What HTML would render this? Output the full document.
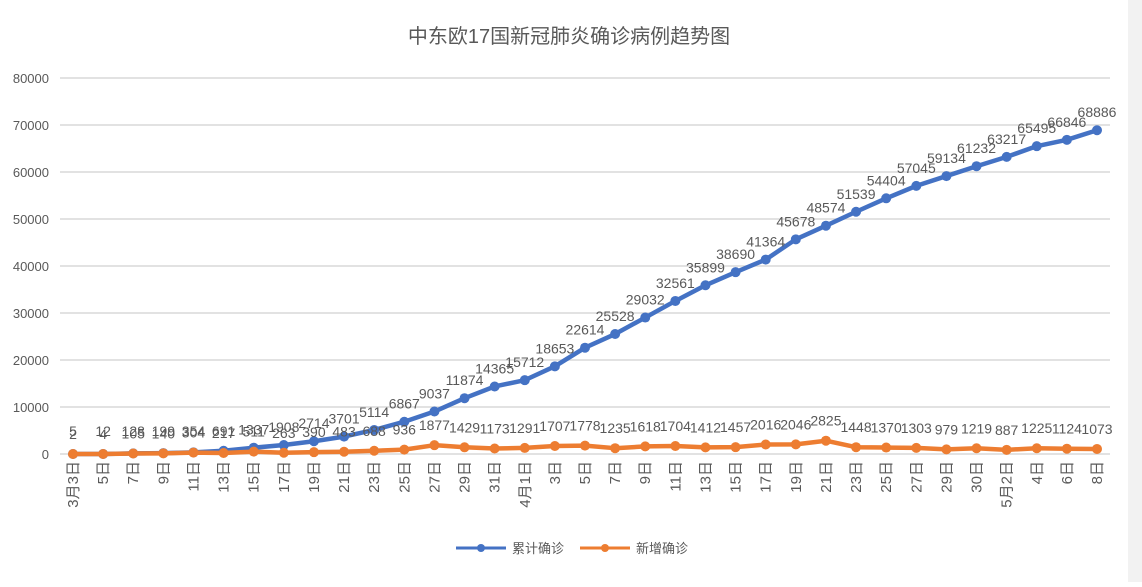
<!DOCTYPE html>
<html><head><meta charset="utf-8"><style>
body{margin:0;background:#fff;}
svg text{font-family:"Liberation Sans","Noto Sans CJK SC",sans-serif;fill:#595959;}
</style></head><body>
<svg id="chart" width="1142" height="582" xmlns="http://www.w3.org/2000/svg">
<rect x="0" y="0" width="1142" height="582" fill="#fff"/>
<rect x="1128" y="0" width="14" height="582" fill="#f2f2f2"/>
<text x="569" y="43" text-anchor="middle" font-size="20">中东欧17国新冠肺炎确诊病例趋势图</text>
<g id="grid"></g><g id="yticks"></g><g id="xticks"></g><g id="series"></g><g id="labels"></g>
<g>
<g>
<line x1="456" y1="548" x2="506" y2="548" stroke="#4472C4" stroke-width="3"/><circle cx="481" cy="548" r="4" fill="#4472C4"/>
<text x="512" y="553" font-size="13">累计确诊</text></g>
<g>
<line x1="580" y1="548" x2="630" y2="548" stroke="#ED7D31" stroke-width="3"/><circle cx="605" cy="548" r="4" fill="#ED7D31"/>
<text x="636" y="553" font-size="13">新增确诊</text></g>
</g>
</svg>
<script>
const categories=["3月3日","5日","7日","9日","11日","13日","15日","17日","19日","21日","23日","25日","27日","29日","31日","4月1日","3日","5日","7日","9日","11日","13日","15日","17日","19日","21日","23日","25日","27日","29日","30日","5月2日","4日","6日","8日"];
const cumulative=[5,12,128,199,354,691,1337,1908,2714,3701,5114,6867,9037,11874,14365,15712,18653,22614,25528,29032,32561,35899,38690,41364,45678,48574,51539,54404,57045,59134,61232,63217,65495,66846,68886];
const newCases=[2,4,105,140,304,217,511,263,390,483,688,936,1877,1429,1173,1291,1707,1778,1235,1618,1704,1412,1457,2016,2046,2825,1448,1370,1303,979,1219,887,1225,1124,1073];
const yTicks=[0,10000,20000,30000,40000,50000,60000,70000,80000];
const NS="http://www.w3.org/2000/svg";
function X(i){return 73+i*(1097-73)/(categories.length-1);}
function Y(v){return 454-v*(376/80000);}
function mk(tag,attrs,parent,text){const e=document.createElementNS(NS,tag);for(const k in attrs)e.setAttribute(k,attrs[k]);if(text!==undefined)e.textContent=text;parent.appendChild(e);return e;}
const grid=document.getElementById('grid'),yt=document.getElementById('yticks'),xt=document.getElementById('xticks'),ser=document.getElementById('series'),lab=document.getElementById('labels');
yTicks.forEach(v=>{
 const l=mk('line',{x1:60,x2:1110,y1:Y(v),y2:Y(v),stroke:'#d9d9d9','stroke-width':1.5},grid);
 
 
 const t=mk('text',{x:49,y:Y(v)+5,'text-anchor':'end','font-size':13},yt,String(v));
 
 
});
categories.forEach((c,i)=>{
 const t=mk('text',{transform:`translate(${X(i)+5},461) rotate(-90)`,'text-anchor':'end','font-size':15},xt,c);
 
 
});
function drawSeries(vals,color,name,dy){
 const p=mk('polyline',{points:vals.map((v,i)=>X(i)+','+Y(v)).join(' '),fill:'none',stroke:color,'stroke-width':4.5,'stroke-linejoin':'round'},ser);
 
 
 vals.forEach((v,i)=>{
  const c=mk('circle',{cx:X(i),cy:Y(v),r:5,fill:color},ser);
  
  
  const t=mk('text',{x:X(i),y:dy(v),'text-anchor':'middle','font-size':14},lab,String(v));
  
  
 });
}
drawSeries(cumulative,'#4472C4','cumulative',v=>Math.min(436,Y(v)-13));
drawSeries(newCases,'#ED7D31','new-cases',v=>Y(v)-15);
</script>
</body></html>
